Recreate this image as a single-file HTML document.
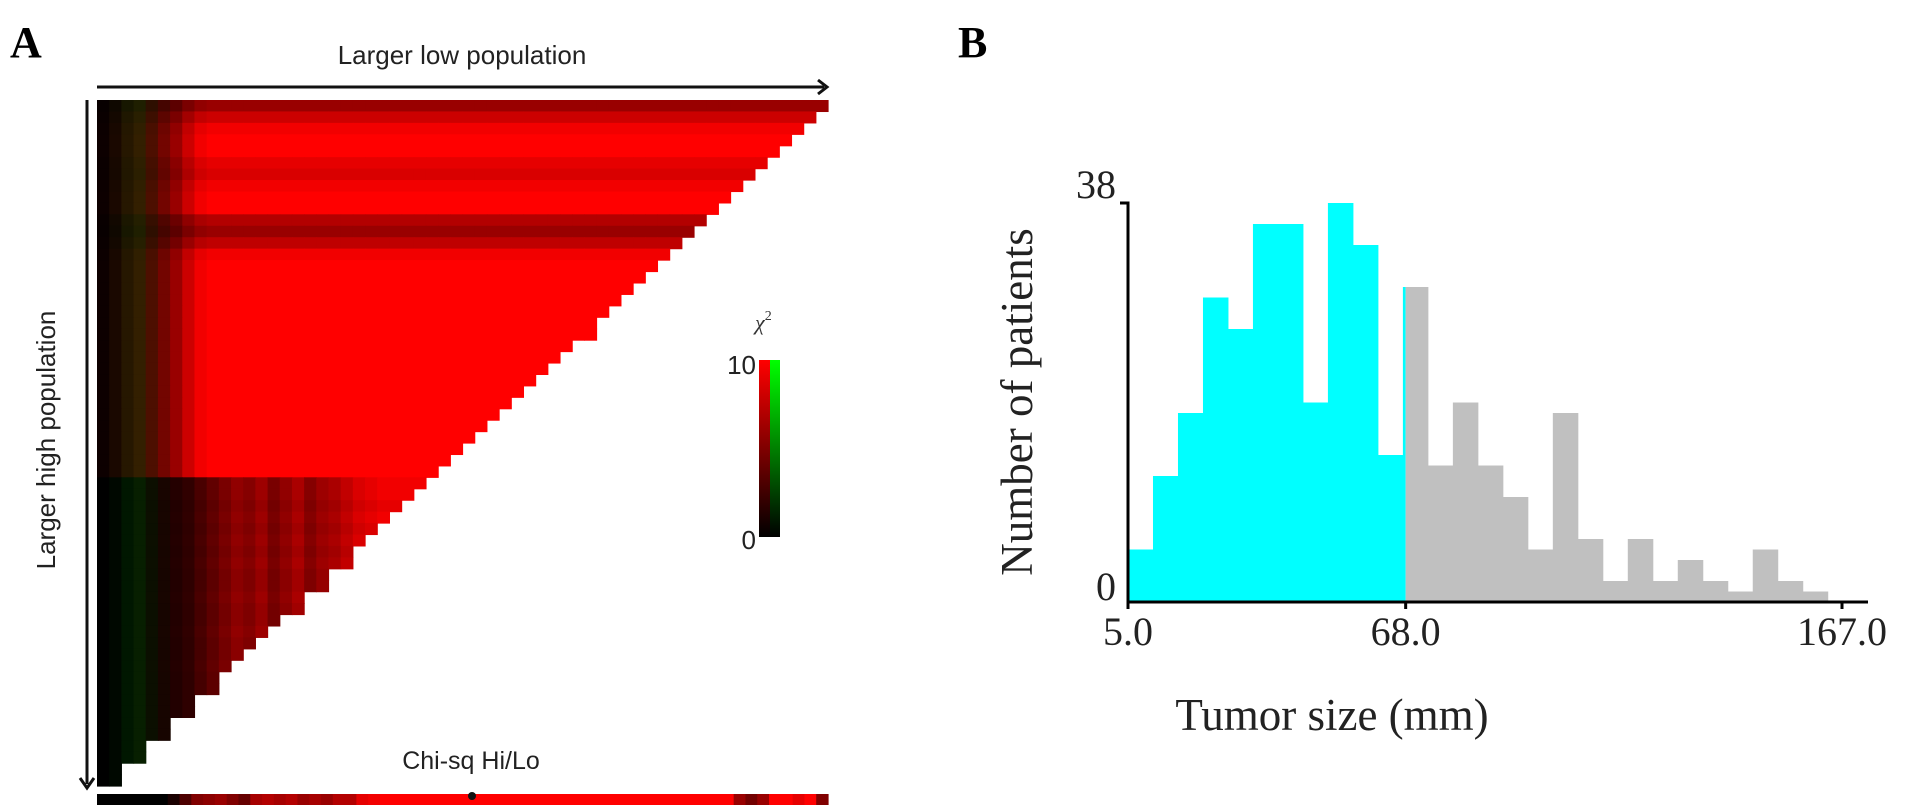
<!DOCTYPE html>
<html><head><meta charset="utf-8">
<style>
html,body{margin:0;padding:0;background:#fff;}
svg{display:block;}
</style></head>
<body>
<svg id="fig" width="1913" height="805" viewBox="0 0 1913 805" xmlns="http://www.w3.org/2000/svg">
  <defs>
    <linearGradient id="gRed" x1="0" y1="1" x2="0" y2="0"><stop offset="0" stop-color="#000"/><stop offset="1" stop-color="#ff0000"/></linearGradient>
    <linearGradient id="gGreen" x1="0" y1="1" x2="0" y2="0"><stop offset="0" stop-color="#000"/><stop offset="1" stop-color="#00ff00"/></linearGradient>
  </defs>
  <!-- Panel A -->
  <text x="10" y="57" font-family="Liberation Serif, serif" font-weight="bold" font-size="44">A</text>
  <text x="462" y="64" text-anchor="middle" font-family="Liberation Sans, sans-serif" font-size="26" fill="#222">Larger low population</text>
  <g>
    <line x1="97" y1="87" x2="824" y2="87" stroke="#111" stroke-width="3"/>
    <path d="M818,80 L827,87 L818,94" fill="none" stroke="#111" stroke-width="3"/>
  </g>
  <g>
    <line x1="87" y1="100" x2="87" y2="784" stroke="#111" stroke-width="3"/>
    <path d="M80,778 L87,788 L94,778" fill="none" stroke="#111" stroke-width="3"/>
  </g>
  <text transform="translate(55,440) rotate(-90)" text-anchor="middle" font-family="Liberation Sans, sans-serif" font-size="26" fill="#222">Larger high population</text>
  <g id="heat"></g>
  <text x="471" y="769" text-anchor="middle" font-family="Liberation Sans, sans-serif" font-size="25" fill="#222">Chi-sq Hi/Lo</text>
  <g id="hbar"></g>
  <circle cx="472" cy="796" r="4" fill="#111"/>
  <g>
    <text x="755" y="330" font-family="Liberation Serif, serif" font-style="italic" font-size="22" fill="#333">χ<tspan font-size="14" dy="-10" font-style="normal">2</tspan></text>
    <rect x="759" y="360" width="11" height="177" fill="url(#gRed)"/>
    <rect x="770" y="360" width="10" height="177" fill="url(#gGreen)"/>
    <text x="756" y="374" text-anchor="end" font-family="Liberation Sans, sans-serif" font-size="26" fill="#222">10</text>
    <text x="756" y="549" text-anchor="end" font-family="Liberation Sans, sans-serif" font-size="26" fill="#222">0</text>
  </g>
  <!-- Panel B -->
  <text x="958" y="57" font-family="Liberation Serif, serif" font-weight="bold" font-size="44">B</text>
  <g id="hist"></g>
  <text transform="translate(1032,402) rotate(-90)" text-anchor="middle" font-family="Liberation Serif, serif" font-size="45" fill="#222">Number of patients</text>
  <text x="1332" y="730" text-anchor="middle" font-family="Liberation Serif, serif" font-size="45" fill="#222">Tumor size (mm)</text>
</svg>
<script>
// ---- Histogram data (Panel B) ----
const binStart = 5.0;
const binWidth = 5.67;
const counts = [5,12,18,29,26,36,36,19,38,34,14,30,13,19,13,10,5,18,6,2,6,2,4,2,1,5,2,1];
const cutoff = 68.0;
const xTicks = [5.0, 68.0, 167.0];
const yTicks = [0, 38];

// ---- Heatmap data (Panel A), chi-square 0..10 ----
const colTop = [0.5,1,1.5,2,3,4.5,6,8,9.5,10,10,10,10,10,10,10,10,10,10,10,10,10,10,10,10,10,10,10,10,10,10,10,10,10,10,10,10,10,10,10,10,10,10,10,10,10,10,10,10,10,10,10,10,10,10,10,10,10,10,10];
const colBottom = [0,0,0,0.3,0.5,1,1.5,2,3,4,5,6,5.5,6.5,5,6,7,5.5,6.5,7,8,9,9.5,10,10,10,10,10,10,10,10,10,10,10,10,10,10,10,10,10,10,10,10,10,10,10,10,10,10,10,10,10,10,10,10,10,10,10,10,10];
const rowFactor = [0.6,0.8,0.95,1,1,0.9,0.85,0.95,1,1,0.7,0.6,0.75,0.95,1,1,1,1,1,1,1,1,1,1,1,1,1,1,1,1,1,1,1,0.95,0.95,0.9,0.95,0.9,0.95,0.9,0.95,0.9,0.9,0.95,0.9,0.9,0.95,0.9,0.9,0.95,0.9,0.9,0.9,0.9,0.9,0.9,0.9,0.9,0.9,0.9];
const greenCols = [0,0.3,0.9,1.2,0.6,0.2,0,0,0,0,0,0,0,0,0,0,0,0,0,0,0,0,0,0,0,0,0,0,0,0,0,0,0,0,0,0,0,0,0,0,0,0,0,0,0,0,0,0,0,0,0,0,0,0,0,0,0,0,0,0];
const hiLo = [0,0,0,0,0,0,1,3,5,5.5,6,5,4,6.5,7,6.5,7,6,6.5,6,7,7,9,9.5,10,10,10,10,10,10,10,10,10,10,10,10,10,10,10,10,10,10,10,10,10,10,10,10,10,10,10,10,10,10,6,4.5,6,10,10,9,10,5];

const NS = "http://www.w3.org/2000/svg";
function mk(tag, attrs, parent){ const e=document.createElementNS(NS,tag); for(const k in attrs) e.setAttribute(k,attrs[k]); parent.appendChild(e); return e; }
function heatColor(v, g){ const r=Math.round(Math.max(0,Math.min(10,v))/10*255); const gg=Math.round(g/10*255); return `rgb(${r},${gg},0)`; }

// heatmap
(function(){
  const g=document.getElementById('heat');
  const L=97,T=100,W=731,H=686;
  const nc=colTop.length, nr=rowFactor.length;
  const cw=W/nc, rh=H/nr;
  const split=Math.round(nr*0.55);
  for(let r=0;r<nr;r++){
    const maxC=Math.ceil(nc*(1-r/nr));
    for(let c=0;c<maxC;c++){
      const base = r<split ? colTop[c] : colBottom[c];
      const v = base*rowFactor[r];
      const rect=mk('rect',{x:(L+c*cw).toFixed(2),y:(T+r*rh).toFixed(2),width:(cw+0.6).toFixed(2),height:(rh+0.6).toFixed(2),fill:heatColor(v,greenCols[c])},g);
      
      
    }
  }
  const hb=document.getElementById('hbar');
  const bw=W/hiLo.length;
  hiLo.forEach((v,i)=>{
    const rect=mk('rect',{x:(L+i*bw).toFixed(2),y:794,width:(bw+0.6).toFixed(2),height:11,fill:heatColor(v,0)},hb);
    
    
  });
})();

// histogram
(function(){
  const g=document.getElementById('hist');
  const x0=1128, x1=1842, y0=602, y1=203;
  const xs=v=>x0+(v-5)/(167-5)*(x1-x0);
  const ys=v=>y0-(v/38)*(y0-y1);
  counts.forEach((c,i)=>{
    const a=binStart+i*binWidth, b=a+binWidth;
    if(b<=cutoff||a>=cutoff){
      const r=mk('rect',{x:xs(a),y:ys(c),width:xs(b)-xs(a)+0.5,height:y0-ys(c),fill:b<=cutoff?'#00ffff':'#c0c0c0'},g);
      
      
    } else {
      const r1=mk('rect',{x:xs(a),y:ys(c),width:xs(cutoff)-xs(a),height:y0-ys(c),fill:'#00ffff'},g);
      
      
      const r2=mk('rect',{x:xs(cutoff),y:ys(c),width:xs(b)-xs(cutoff)+0.5,height:y0-ys(c),fill:'#c0c0c0'},g);
      
      
    }
  });
  const ya=mk('path',{d:`M${x0-8},${y1} L${x0},${y1} L${x0},${y0}`,fill:'none',stroke:'#000','stroke-width':3},g);
  
  
  const xa=mk('line',{x1:x0,y1:y0,x2:1868,y2:y0,stroke:'#000','stroke-width':3},g);
  
  
  xTicks.forEach(v=>{
    const t=mk('line',{x1:xs(v),y1:y0,x2:xs(v),y2:y0+7,stroke:'#000','stroke-width':3},g);
    
    
    const l=mk('text',{x:xs(v),y:645,'text-anchor':'middle','font-family':'Liberation Serif, serif','font-size':40,fill:'#222'},g);
    l.textContent=v.toFixed(1);
    
    
  });
  yTicks.forEach(v=>{
    const l=mk('text',{x:x0-12,y:v===0?ys(v)-2:ys(v)-5,'text-anchor':'end','font-family':'Liberation Serif, serif','font-size':40,fill:'#222'},g);
    l.textContent=String(v);
    
    
  });
})();
</script>
</body></html>
